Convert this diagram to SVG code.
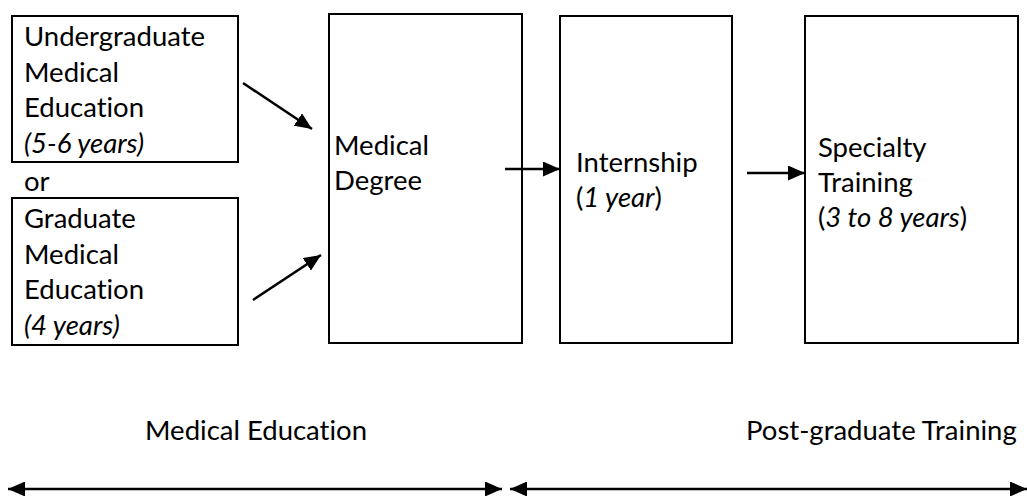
<svg xmlns="http://www.w3.org/2000/svg" width="1027" height="496" viewBox="0 0 1027 496">
<style>
text{font-family:"Lato","Open Sans","Liberation Sans",sans-serif;font-size:27.5px;fill:#000;font-variant-ligatures:none;font-feature-settings:"liga" 0}
.it{font-style:italic}
.box{fill:#fff;stroke:#000;stroke-width:2}
.con{stroke:#000;stroke-width:2.5;fill:none}
</style>
<defs>
<marker id="ah" markerUnits="userSpaceOnUse" markerWidth="18" markerHeight="15" refX="17" refY="7.5" orient="auto-start-reverse" viewBox="0 0 18 15">
<path d="M0,0 L17,7.5 L0,15 z" fill="#000"/>
</marker>
</defs>
<rect width="1027" height="496" fill="#fff"/>
<g id="undergrad">
<rect class="box" x="12" y="16" width="226" height="146"/>
<text x="24" y="46">Undergraduate</text>
<text x="24" y="81.5">Medical</text>
<text x="24" y="117">Education</text>
<text x="24" y="152.5" class="it">(5-6 years)</text>
</g>
<g id="or"><text x="24" y="191">or</text></g>
<g id="graduate">
<rect class="box" x="12" y="198" width="226" height="147"/>
<text x="24" y="228">Graduate</text>
<text x="24" y="263.5">Medical</text>
<text x="24" y="299">Education</text>
<text x="24" y="334.5" class="it">(4 years)</text>
</g>
<g id="degree">
<rect class="box" x="329" y="14" width="193" height="329"/>
<text x="334" y="155">Medical</text>
<text x="334" y="190">Degree</text>
</g>
<g id="internship">
<rect class="box" x="560" y="16" width="172" height="327"/>
<text x="576" y="172">Internship</text>
<text x="576" y="207">(<tspan class="it">1 year</tspan>)</text>
</g>
<g id="specialty">
<rect class="box" x="805" y="16" width="213" height="327"/>
<text x="818" y="157">Specialty</text>
<text x="818" y="192">Training</text>
<text x="818" y="227">(<tspan class="it">3 to 8 years</tspan>)</text>
</g>
<g id="labels">
<text x="145" y="440">Medical Education</text>
<text x="746" y="440">Post-graduate Training</text>
</g>
<g id="connectors">
<line class="con" x1="243" y1="83" x2="312" y2="129" marker-end="url(#ah)"/>
<line class="con" x1="253" y1="300" x2="321" y2="255" marker-end="url(#ah)"/>
<line class="con" x1="505" y1="169" x2="560" y2="169" marker-end="url(#ah)"/>
<line class="con" x1="747" y1="173" x2="805" y2="173" marker-end="url(#ah)"/>
<line class="con" x1="8" y1="489" x2="502" y2="489" marker-start="url(#ah)" marker-end="url(#ah)"/>
<line class="con" x1="510" y1="489" x2="1027" y2="489" marker-start="url(#ah)" marker-end="url(#ah)"/>
</g>
</svg>
